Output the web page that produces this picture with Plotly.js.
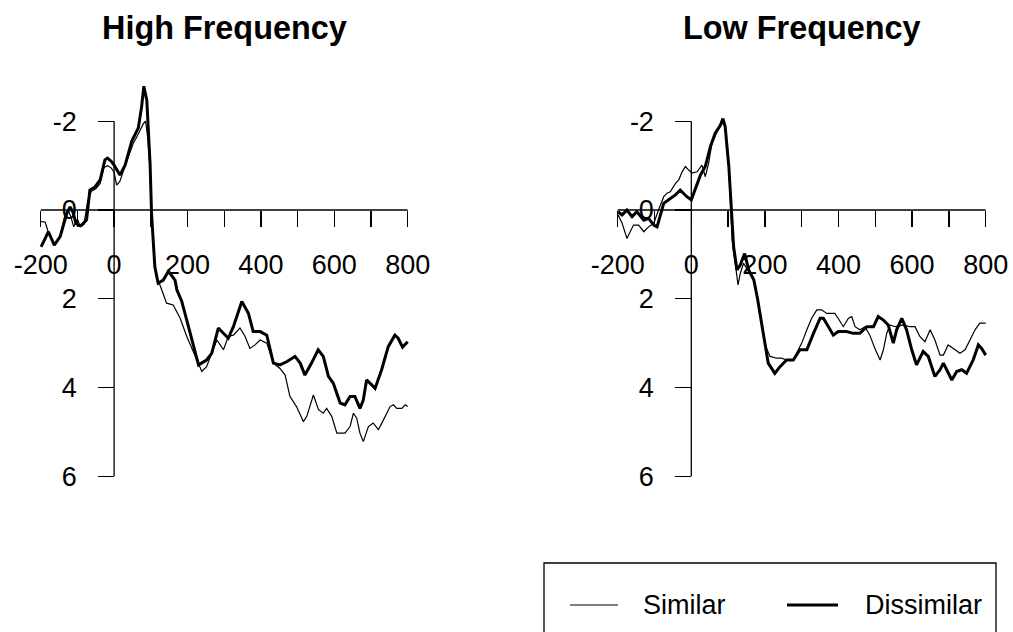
<!DOCTYPE html>
<html>
<head>
<meta charset="utf-8">
<script src="https://cdn.plot.ly/plotly-3.0.1.min.js"></script>
<style>html,body{margin:0;padding:0;background:#fff;}#chart{width:1013px;height:632px;}</style>
</head>
<body>
<div id="chart"></div>
<script>
// ---- data (time in ms, amplitude in microvolts; negative plotted up) ----
const panelTitles = ["High Frequency", "Low Frequency"];
const seriesNames = ["Similar", "Dissimilar"];
const xTickVals = [-200, -100, 0, 100, 200, 300, 400, 500, 600, 700, 800];
const xTickText = ["-200", "", "0", "", "200", "", "400", "", "600", "", "800"];
const yTickVals = [-2, 0, 2, 4, 6];
const yTickText = ["-2", "0", "2", "4", "6"];

const hfSimilarT = [-199,-188,-179,-163,-147,-135,-125,-118,-110,-100,-92,-82,-72,-62,-50,-38,-28,-18,-8,0,7,16,28,40,52,62,72,80,86,92,97,102,110,116,125,143,161,180,198,216,239,252,270,280,289,298,311,325,343,357,370,384,398,416,434,452,466,479,497,516,525,543,557,570,579,593,607,629,643,652,661,670,679,693,706,720,734,752,761,770,784,793,800];
const hfSimilarV = [0.26,0.27,0.50,0.79,0.58,0.15,0.0,0.15,0.38,0.2,0.38,0.32,-0.2,-0.42,-0.48,-0.6,-0.95,-1.0,-0.95,-0.85,-0.56,-0.65,-0.95,-1.25,-1.5,-1.65,-1.82,-1.95,-2.0,-1.6,-1.0,0.05,1.15,1.58,1.69,2.10,2.14,2.44,2.85,3.19,3.64,3.53,3.15,2.93,3.04,3.15,2.85,2.82,2.66,2.85,3.12,3.04,2.93,3.00,3.45,3.57,3.72,4.20,4.43,4.77,4.65,4.17,4.50,4.58,4.47,4.65,5.03,5.03,4.88,4.58,4.69,5.03,5.22,4.88,4.80,4.95,4.73,4.43,4.39,4.47,4.47,4.39,4.43];

const hfDissimilarT = [-199,-179,-163,-147,-129,-120,-112,-104,-96,-88,-75,-66,-52,-38,-25,-18,-8,0,16,30,48,56,66,75,81,89,98,102,111,120,134,148,166,171,184,198,216,230,252,266,284,298,311,325,348,366,379,398,416,434,452,470,493,507,520,538,556,570,584,597,616,629,643,656,670,679,688,702,711,729,747,765,774,786,800];
const hfDissimilarV = [0.83,0.49,0.79,0.60,0.08,-0.07,0.05,0.30,0.35,0.34,0.22,-0.45,-0.52,-0.68,-1.13,-1.17,-1.1,-1.01,-0.79,-1.01,-1.55,-1.70,-1.85,-2.33,-2.79,-2.48,-1.06,0.08,1.28,1.65,1.58,1.38,1.58,1.80,2.05,2.48,3.08,3.49,3.38,3.23,2.66,2.78,2.89,2.63,2.06,2.33,2.74,2.74,2.82,3.45,3.49,3.42,3.30,3.45,3.72,3.45,3.15,3.30,3.75,3.90,4.35,4.39,4.20,4.20,4.47,4.28,3.83,3.94,4.02,3.60,3.08,2.82,2.89,3.09,2.97];

const lfSimilarT = [-199,-188,-175,-166,-157,-143,-129,-116,-102,-89,-75,-66,-57,-43,-34,-25,-16,-7,2,16,29,38,47,56,70,84,92,102,111,120,127,133,142,156,170,180,192,201,214,232,245,259,277,300,314,327,341,354,368,390,399,413,427,436,445,458,472,485,499,513,522,531,540,554,576,594,608,621,635,649,662,676,685,698,712,730,744,757,771,784,800];
const lfSimilarV = [0.11,0.30,0.64,0.49,0.34,0.34,0.49,0.38,0.30,0.0,-0.30,-0.38,-0.41,-0.60,-0.68,-0.86,-0.98,-0.90,-0.83,-0.86,-1.01,-0.75,-1.05,-1.50,-1.76,-2.03,-1.88,-0.98,0.68,1.28,1.69,1.43,1.20,1.39,1.58,2.0,2.6,3.05,3.30,3.34,3.34,3.38,3.38,3.00,2.70,2.44,2.25,2.25,2.33,2.33,2.44,2.63,2.44,2.40,2.63,2.70,2.63,2.82,3.12,3.38,3.15,2.78,2.59,2.63,2.59,2.63,2.63,2.85,2.97,2.70,2.93,3.27,3.27,3.04,3.12,3.23,3.15,2.93,2.70,2.55,2.55];

const lfDissimilarT = [-199,-188,-175,-161,-148,-129,-116,-102,-93,-84,-75,-57,-43,-30,-21,-12,0,11,25,38,52,65,79,86,92,102,109,115,124,133,145,156,170,180,192,201,209,227,241,259,277,295,314,332,350,359,372,386,399,422,440,458,477,495,508,522,535,549,558,572,585,599,612,630,644,662,676,685,694,708,721,735,748,766,780,789,800];
const lfDissimilarV = [0.04,0.11,0.0,0.15,0.04,0.23,0.19,0.34,0.38,0.11,-0.15,-0.26,-0.34,-0.45,-0.38,-0.30,-0.23,-0.49,-0.79,-0.98,-1.43,-1.73,-1.91,-2.06,-1.88,-0.98,0.0,0.83,1.35,1.24,0.98,1.35,1.58,2.0,2.6,3.05,3.45,3.68,3.53,3.38,3.38,3.15,3.15,2.78,2.44,2.44,2.63,2.82,2.74,2.74,2.78,2.78,2.63,2.63,2.40,2.48,2.59,3.00,2.70,2.44,2.70,3.15,3.49,3.19,3.30,3.75,3.60,3.45,3.60,3.83,3.64,3.60,3.68,3.38,3.04,3.12,3.27];

// ---- layout geometry (pixels) ----
const W = 1013, H = 632;
const FONT = "Liberation Sans, Arial, sans-serif";
const pxX = p => p / W;
const pxY = p => 1 - p / H;
const yZeroPx = 210, yPerUnit = 44.375;
const yRange = [6.6, -3.2];
const yDomain = [pxY(yZeroPx + yRange[0] * yPerUnit), pxY(yZeroPx + yRange[1] * yPerUnit)];
const xRange = [-215, 815];
function xDomain(leftPx, rightPx) {
  const per = (rightPx - leftPx) / 1000;
  return [pxX(leftPx + (xRange[0] + 200) * per), pxX(leftPx + (xRange[1] + 200) * per)];
}
const panels = [
  {left: 40.7, right: 407.7},
  {left: 617.7, right: 985.7}
];

function xAxis(p) {
  return {
    domain: xDomain(p.left, p.right), range: xRange,
    anchor: "free", position: pxY(yZeroPx), side: "bottom",
    showline: false, zeroline: false, showgrid: false,
    tickmode: "array", tickvals: xTickVals, ticktext: xTickText,
    ticks: "outside", ticklen: 16, tickwidth: 1.3, tickcolor: "#000",
    ticklabelstandoff: 15,
    tickfont: {family: FONT, size: 27, color: "#000"}
  };
}
function yAxis(p) {
  const per = (p.right - p.left) / 1000;
  const zeroPx = p.left + 200 * per;
  return {
    domain: yDomain, range: yRange,
    anchor: "free", position: pxX(zeroPx), side: "left",
    showline: false, zeroline: false, showgrid: false,
    tickmode: "array", tickvals: yTickVals, ticktext: yTickText,
    ticks: "outside", ticklen: 16, tickwidth: 1.3, tickcolor: "#000",
    ticklabelstandoff: 16,
    tickfont: {family: FONT, size: 27, color: "#000"}
  };
}

const thin = {color: "#000", width: 1.2};
const thick = {color: "#000", width: 3};
const traces = [
  {x: hfSimilarT, y: hfSimilarV, xaxis: "x", yaxis: "y", mode: "lines", line: thin, name: seriesNames[0]},
  {x: hfDissimilarT, y: hfDissimilarV, xaxis: "x", yaxis: "y", mode: "lines", line: thick, name: seriesNames[1]},
  {x: lfSimilarT, y: lfSimilarV, xaxis: "x2", yaxis: "y2", mode: "lines", line: thin, name: seriesNames[0]},
  {x: lfDissimilarT, y: lfDissimilarV, xaxis: "x2", yaxis: "y2", mode: "lines", line: thick, name: seriesNames[1]}
];

const shapes = [];
[["x", "y"], ["x2", "y2"]].forEach(([xr, yr]) => {
  shapes.push({type: "line", xref: xr, yref: yr, x0: -200, x1: 800, y0: 0, y1: 0, line: {color: "#000", width: 1.3}, layer: "below"});
  shapes.push({type: "line", xref: xr, yref: yr, x0: 0, x1: 0, y0: -2, y1: 6, line: {color: "#000", width: 1.3}, layer: "below"});
});
// legend: box, line samples and labels
const legendY = 605;
shapes.push({type: "rect", xref: "paper", yref: "paper", x0: pxX(544), x1: pxX(996), y0: pxY(650), y1: pxY(563), line: {color: "#000", width: 1.3}, fillcolor: "rgba(0,0,0,0)"});
shapes.push({type: "line", xref: "paper", yref: "paper", x0: pxX(570), x1: pxX(618), y0: pxY(legendY), y1: pxY(legendY), line: thin});
shapes.push({type: "line", xref: "paper", yref: "paper", x0: pxX(787), x1: pxX(838), y0: pxY(legendY), y1: pxY(legendY), line: thick});

const annotations = panels.map((p, i) => ({
  text: "<b>" + panelTitles[i] + "</b>", xref: "paper", yref: "paper",
  x: pxX((p.left + p.right) / 2), y: pxY(28), xanchor: "center", yanchor: "middle",
  showarrow: false, font: {family: FONT, size: 32.4, color: "#000"}
}));
[[seriesNames[0], 641], [seriesNames[1], 863]].forEach(([t, x]) => {
  annotations.push({text: t, xref: "paper", yref: "paper", x: pxX(x), y: pxY(legendY),
    xanchor: "left", yanchor: "middle", showarrow: false,
    font: {family: FONT, size: 27, color: "#000"}});
});

const layout = {
  width: W, height: H,
  margin: {l: 0, r: 0, t: 0, b: 0},
  paper_bgcolor: "#fff", plot_bgcolor: "rgba(0,0,0,0)",
  xaxis: xAxis(panels[0]), yaxis: yAxis(panels[0]),
  xaxis2: xAxis(panels[1]), yaxis2: yAxis(panels[1]),
  shapes: shapes, annotations: annotations,
  showlegend: false
};

Plotly.newPlot("chart", traces, layout, {staticPlot: true, displayModeBar: false});
</script>
</body>
</html>
